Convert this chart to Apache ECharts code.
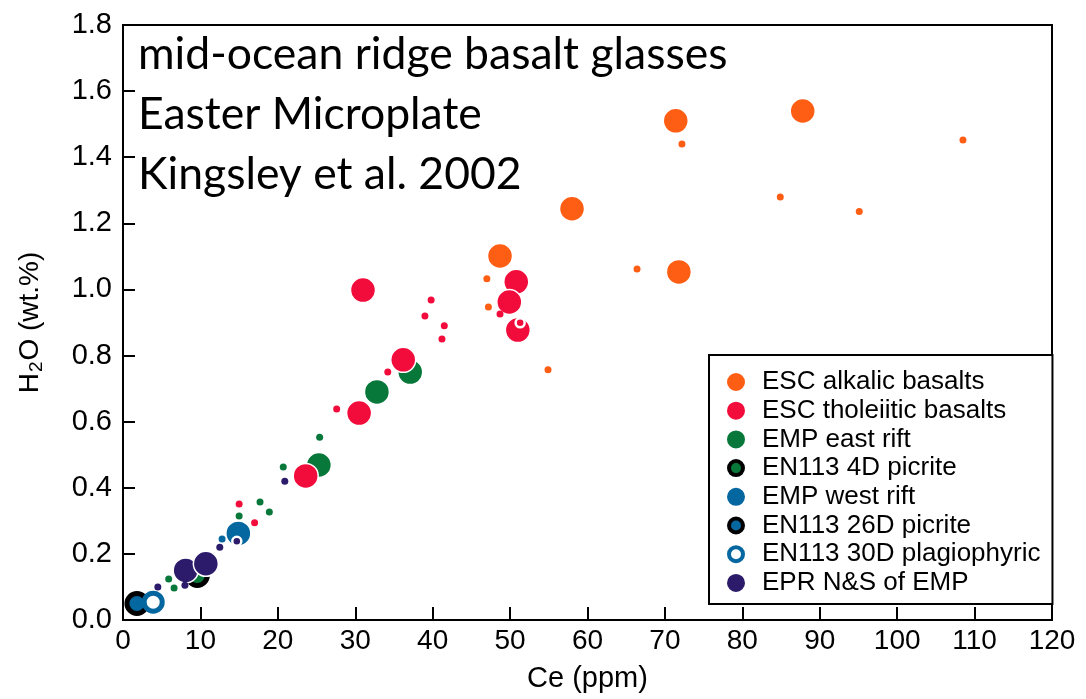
<!DOCTYPE html>
<html><head><meta charset="utf-8">
<script src="https://cdn.jsdelivr.net/npm/echarts@6/dist/echarts.min.js"></script>
<style>html,body{margin:0;padding:0;background:#fff}#c{width:1086px;height:699px}</style>
</head><body><div id="c"></div>
<script>
const xTicks = [0,10,20,30,40,50,60,70,80,90,100,110,120];
const yTicks = [0.0,0.2,0.4,0.6,0.8,1.0,1.2,1.4,1.6,1.8];
const titleLines = ['mid-ocean ridge basalt glasses','Easter Microplate','Kingsley et al. 2002'];
const seriesNames = ['ESC alkalic basalts','ESC tholeiitic basalts','EMP east rift','EN113 4D picrite','EMP west rift','EN113 26D picrite','EN113 30D plagiophyric','EPR N&S of EMP'];

const alkalicBig = [[71.4,1.51],[87.8,1.54],[58.0,1.244],[71.8,1.053],[48.7,1.101]];
const alkalicSmall = [[72.2,1.44],[108.5,1.452],[84.9,1.28],[95.1,1.236],[66.4,1.062],[47.0,1.032],[47.2,0.947],[54.9,0.757]];
const tholeiiticBig = [[31.0,0.998],[36.2,0.787],[30.5,0.626],[23.6,0.436],[50.8,1.023],[49.9,0.962],[51.0,0.877]];
const tholeiiticSmall = [[39.8,0.968],[41.5,0.89],[41.2,0.85],[48.7,0.926],[39.0,0.92],[34.2,0.75],[27.6,0.638],[15.0,0.351],[17.0,0.294]];
const tholeiiticRinged = [[51.3,0.899]];
const eastRiftBig = [[32.8,0.69],[37.1,0.75],[25.3,0.469]];
const eastRiftSmall = [[25.4,0.553],[20.7,0.463],[17.7,0.357],[15.0,0.315],[18.9,0.327],[5.9,0.124],[6.6,0.097]];
const picrite4D = [[9.6,0.135]];
const westRiftBig = [[14.9,0.262]];
const westRiftSmall = [[12.8,0.245]];
const picrite26D = [[1.8,0.05]];
const plagiophyric30D = [[3.9,0.054]];
const eprBig = [[8.1,0.150],[10.7,0.170]];
const eprSmall = [[4.5,0.10],[12.5,0.22],[20.9,0.42],[8.0,0.105]];
const eprRinged = [[14.7,0.238]];

const C = {orange:'#fe5e14', red:'#f20c3c', green:'#08783a', blue:'#05679f', navy:'#2c1a6a', black:'#000'};

function sc(name, data, size, color, bc, bw, z){
  return {type:'scatter', name:name, data:data, symbol:'circle', symbolSize:size, z:z||2,
    itemStyle:{color:color, borderColor:bc, borderWidth:bw, opacity:1}, emphasis:{disabled:true}};
}
const W='#ffffff';
const series = [
  sc(seriesNames[2], eastRiftBig, 25, C.green, W, 1.5),
  sc(seriesNames[2], eastRiftSmall, 7, C.green, W, 0),
  sc(seriesNames[3], picrite4D, 20, C.green, C.black, 5),
  sc(seriesNames[5], picrite26D, 20, C.blue, C.black, 5),
  sc(seriesNames[4], westRiftBig, 25, C.blue, W, 1.5),
  sc(seriesNames[4], westRiftSmall, 7, C.blue, W, 0),
  sc(seriesNames[6], plagiophyric30D, 18, W, C.blue, 5),
  sc(seriesNames[1], tholeiiticBig, 25, C.red, W, 1.5),
  sc(seriesNames[1], tholeiiticSmall, 7, C.red, W, 0),
  sc(seriesNames[1], tholeiiticRinged, 9, C.red, W, 2.5),
  sc(seriesNames[0], alkalicBig, 25, C.orange, W, 1.5),
  sc(seriesNames[0], alkalicSmall, 7, C.orange, W, 0),
  sc(seriesNames[7], eprBig, 25, C.navy, W, 1.5),
  sc(seriesNames[7], eprSmall, 7, C.navy, W, 0),
  sc(seriesNames[7], eprRinged, 9, C.navy, W, 2.5)
];

const legendStyles = [
  {color:C.orange,borderColor:C.orange,borderWidth:4},
  {color:C.red,borderColor:C.red,borderWidth:4},
  {color:C.green,borderColor:C.green,borderWidth:4},
  {color:C.green,borderColor:C.black,borderWidth:4},
  {color:C.blue,borderColor:C.blue,borderWidth:4},
  {color:C.blue,borderColor:C.black,borderWidth:4},
  {color:W,borderColor:C.blue,borderWidth:4},
  {color:C.navy,borderColor:C.navy,borderWidth:4}
];

const chart = echarts.init(document.getElementById('c'), null, {renderer:'canvas'});
chart.setOption({
  animation:false,
  backgroundColor:'#fff',
  title:{text:titleLines.join('\n'), left:138, top:25, padding:0,
    textStyle:{fontFamily:'Lato', fontSize:44.5, fontWeight:'normal', color:'#000', lineHeight:60}},
  grid:{left:123, right:34, top:25, bottom:79, show:true, borderColor:'#000', borderWidth:2, backgroundColor:'transparent'},
  legend:{orient:'vertical', left:709, top:355, padding:[14,12,8,18],
    backgroundColor:'#fff', borderColor:'#000', borderWidth:2, borderRadius:0,
    itemWidth:14, itemHeight:14, itemGap:2.7, icon:'circle', selectedMode:false,
    textStyle:{fontFamily:'Liberation Sans', fontSize:26, color:'#000', lineHeight:25, padding:[0,0,0,14]},
    data:seriesNames.map((n,i)=>({name:n, itemStyle:legendStyles[i]}))},
  xAxis:{type:'value', min:xTicks[0], max:xTicks[xTicks.length-1], interval:10,
    name:'Ce (ppm)', nameLocation:'middle', nameGap:44,
    nameTextStyle:{fontFamily:'Liberation Sans', fontSize:29, color:'#000'},
    axisLine:{show:true, onZero:false, lineStyle:{color:'#000', width:2}},
    axisTick:{show:true, inside:true, length:13, lineStyle:{color:'#000', width:2}},
    axisLabel:{fontFamily:'Liberation Sans', fontSize:28, color:'#000', margin:7},
    splitLine:{show:false}},
  yAxis:{type:'value', min:yTicks[0], max:yTicks[yTicks.length-1], interval:0.2,
    name:'{a|H}{b|2}{a|O (wt.%)}', nameLocation:'middle', nameGap:77, nameRotate:90,
    nameTextStyle:{rich:{a:{fontFamily:'Liberation Sans', fontSize:28, color:'#000'},
      b:{fontFamily:'Liberation Sans', fontSize:19, color:'#000', padding:[12,1,0,1]}}},
    axisLine:{show:true, onZero:false, lineStyle:{color:'#000', width:2}},
    axisTick:{show:true, inside:true, length:12, lineStyle:{color:'#000', width:2}},
    axisLabel:{fontFamily:'Liberation Sans', fontSize:29, color:'#000', margin:11,
      formatter:v=>v.toFixed(1)},
    splitLine:{show:false}},
  series:series
});
</script></body></html>
